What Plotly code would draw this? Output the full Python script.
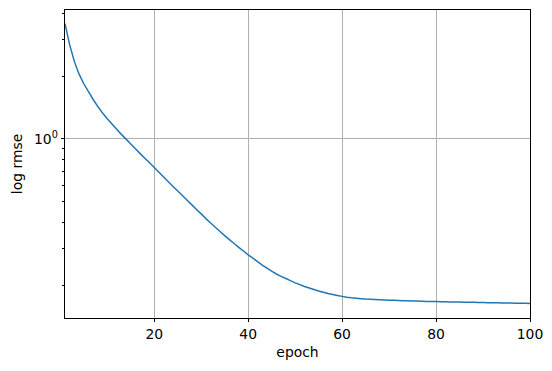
import plotly.graph_objects as go

epochs = list(range(1, 101))
rmse = [
    3.565, 2.818, 2.344, 2.042, 1.837, 1.683, 1.545, 1.429, 1.330, 1.250,
    1.178, 1.112, 1.052, 0.998, 0.946, 0.897, 0.851, 0.809, 0.769, 0.731,
    0.693, 0.658, 0.624, 0.593, 0.564, 0.536, 0.509, 0.484, 0.460, 0.438,
    0.416, 0.396, 0.378, 0.361, 0.345, 0.330, 0.316, 0.303, 0.291, 0.279,
    0.269, 0.259, 0.249, 0.241, 0.233, 0.226, 0.220, 0.215, 0.210, 0.205,
    0.201, 0.197, 0.1936, 0.1905, 0.1875, 0.1849, 0.1824, 0.1803, 0.1782, 0.1766,
    0.1750, 0.1738, 0.1730, 0.1722, 0.1714, 0.1710, 0.1706, 0.1702, 0.1698, 0.1694,
    0.1690, 0.1687, 0.1684, 0.1681, 0.1678, 0.1676, 0.1673, 0.1671, 0.1669, 0.1667,
    0.1665, 0.1663, 0.1662, 0.1660, 0.1658, 0.1656, 0.1655, 0.1653, 0.1651, 0.1650,
    0.1648, 0.1646, 0.1645, 0.1643, 0.1641, 0.1640, 0.1638, 0.1636, 0.1635, 0.1633,
]

x_ticks = [20, 40, 60, 80, 100]
y_major = [1]
y_major_text = ["10<sup>0</sup>"]
y_minor = [0.2, 0.3, 0.4, 0.5, 0.6, 0.7, 0.8, 0.9, 2, 3, 4]

FONT = "DejaVu Sans"
FS = 13.9
Y_RANGE = [-0.8565, 0.617]

fig = go.Figure()
fig.add_trace(go.Scatter(
    x=epochs, y=rmse, mode="lines",
    line=dict(color="#1f77b4", width=1.5, simplify=False),
    showlegend=False,
))
# transparent companion on the minor-tick axis so that axis gets drawn
fig.add_trace(go.Scatter(
    x=epochs, y=rmse, mode="lines", yaxis="y2",
    line=dict(color="rgba(0,0,0,0)", width=0),
    hoverinfo="skip", showlegend=False,
))

fig.update_layout(
    width=552, height=371,
    margin=dict(l=65, r=22, t=10, b=53),
    paper_bgcolor="white", plot_bgcolor="white",
    font=dict(family=FONT, size=FS, color="black"),
    xaxis=dict(
        range=[1, 100],
        tickmode="array", tickvals=x_ticks,
        ticks="outside", ticklen=3.5, tickwidth=0.8, tickcolor="black",
        showline=True, linecolor="black", linewidth=0.8, mirror=True,
        showgrid=True, gridcolor="#b0b0b0", gridwidth=0.8,
        zeroline=False,
        title=dict(text="epoch", standoff=6, font=dict(size=FS)),
        tickfont=dict(size=FS),
    ),
    yaxis=dict(
        type="log", range=Y_RANGE,
        tickmode="array", tickvals=y_major, ticktext=y_major_text,
        ticks="outside", ticklen=3.5, tickwidth=0.8, tickcolor="black",
        showline=True, linecolor="black", linewidth=0.8, mirror=True,
        showgrid=True, gridcolor="#b0b0b0", gridwidth=0.8,
        zeroline=False,
        title=dict(text="log rmse", standoff=8, font=dict(size=FS)),
        tickfont=dict(size=FS),
    ),
    yaxis2=dict(
        type="log", range=Y_RANGE, overlaying="y", anchor="x", side="left",
        tickmode="array", tickvals=y_minor, showticklabels=False,
        ticks="outside", ticklen=2, tickwidth=0.6, tickcolor="black",
        showgrid=False, showline=False, zeroline=False,
    ),
)

fig.write_html("out.html")
